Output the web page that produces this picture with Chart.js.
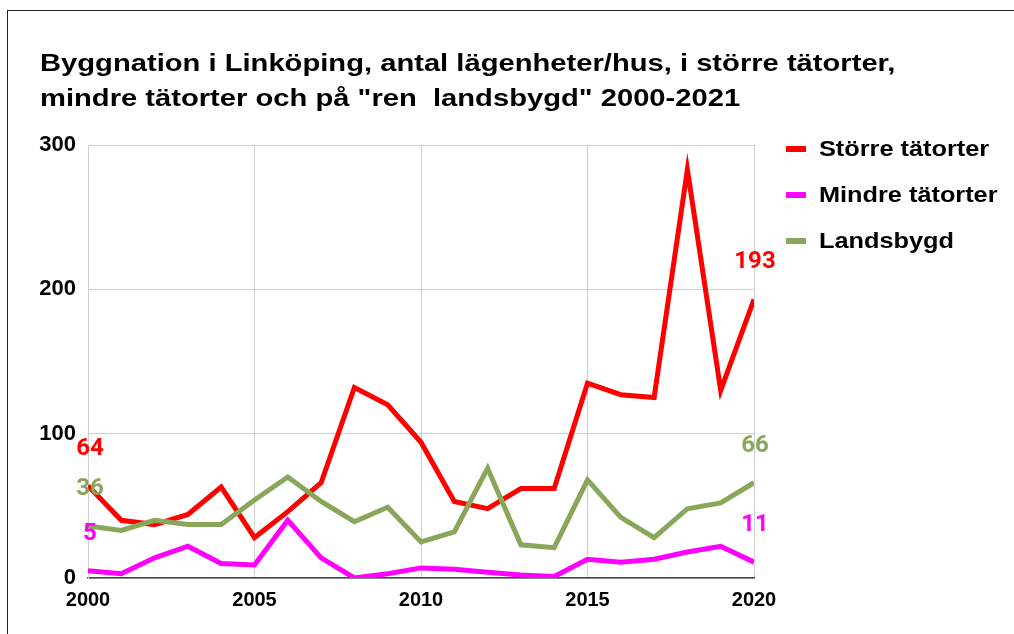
<!DOCTYPE html>
<html>
<head>
<meta charset="utf-8">
<script src="https://cdn.jsdelivr.net/npm/chart.js@4.4.1/dist/chart.umd.min.js"></script>
<style>
  html, body { margin: 0; padding: 0; background: #fff; }
  #wrap { position: relative; width: 1014px; height: 634px; overflow: hidden; }
  #frame { position: absolute; left: 7px; top: 10px; width: 1100px; height: 700px; border-left: 1px solid #222; border-top: 1px solid #222; }
  canvas { position: absolute; left: 0; top: 0; }
  #title { position: absolute; left: 40px; top: 45px; font-family: "Liberation Sans", Arial, sans-serif; font-weight: bold; font-size: 24px; line-height: 35px; color: #000; white-space: nowrap; transform: scaleX(1.215); transform-origin: 0 0; }
  .leg { position: absolute; left: 786px; font-family: "Liberation Sans", Arial, sans-serif; font-weight: bold; font-size: 22px; color: #000; white-space: nowrap; height: 30px; line-height: 30px; }
  .leg i { position: absolute; left: 0; top: 12px; width: 20px; height: 6px; }
  .leg span { position: absolute; left: 33px; top: 0; transform: scaleX(1.15); transform-origin: 0 0; }
</style>
</head>
<body>
<div id="wrap">
  <div id="frame"></div>
  <canvas id="c" width="1014" height="634"></canvas>
  <div id="title">Byggnation i Linköping, antal lägenheter/hus, i större tätorter,<br>mindre tätorter och på "ren&nbsp; landsbygd" 2000-2021</div>
  <div id="legend"></div>
</div>
<script>
const years = [2000,2001,2002,2003,2004,2005,2006,2007,2008,2009,2010,2011,2012,2013,2014,2015,2016,2017,2018,2019,2020];
const storre = [64,40,37,44,63,28,46,66,132,120,94,53,48,62,62,135,127,125,283,130,193];
const mindre = [5,3,14,22,10,9,40,14,0,3,7,6,4,2,1,13,11,13,18,22,11];
const landsbygd = [36,33,40,37,37,54,70,53,39,49,25,32,76,23,21,68,42,28,48,52,66];
const seriesNames = ["Större tätorter", "Mindre tätorter", "Landsbygd"];
const seriesColors = ["#ff0000", "#ff00ff", "#8aa65b"];
const yTicks = [0, 100, 200, 300];
const xTicks = [2000, 2005, 2010, 2015, 2020];

const seriesData = [storre, mindre, landsbygd];
const datasets = seriesData.map((vals, i) => ({
  label: seriesNames[i],
  data: vals.map((v, j) => ({ x: years[j], y: v })),
  borderColor: seriesColors[i],
  backgroundColor: seriesColors[i],
  borderWidth: 5,
  pointRadius: 0,
  tension: 0,
  fill: false,
  borderJoinStyle: 'miter'
}));

const order = [2, 1, 0];
order.forEach((di, k) => { datasets[di].order = k; });

const endLabels = {
  id: 'endLabels',
  afterDatasetsDraw(chart) {
    const ctx = chart.ctx;
    ctx.save();
    ctx.font = '700 24px Roboto, "Liberation Sans", sans-serif';
    ctx.textAlign = 'center';
    ctx.textBaseline = 'middle';
    chart.data.datasets.forEach((ds, i) => {
      const meta = chart.getDatasetMeta(i);
      const pts = meta.data;
      [0, pts.length - 1].forEach(idx => {
        const p = pts[idx];
        ctx.fillStyle = ds.borderColor;
        ctx.fillText(String(ds.data[idx].y), p.x + (idx === 0 ? 2 : 1), p.y - 37);
      });
    });
    ctx.restore();
  }
};

const tickFont = { family: '"Liberation Sans", Arial, sans-serif', weight: 'bold', size: 20 };

new Chart(document.getElementById('c'), {
  type: 'line',
  data: { datasets },
  options: {
    responsive: false,
    animation: false,
    layout: { padding: { left: 10, top: 145, right: 260, bottom: 10 } },
    plugins: { legend: { display: false }, title: { display: false }, tooltip: { enabled: false } },
    scales: {
      x: {
        type: 'linear',
        min: years[0], max: years[years.length - 1],
        afterBuildTicks(scale) { scale.ticks = xTicks.map(v => ({ value: v })); },
        afterFit(scale) { scale.height = 634 - 578 - 10; },
        ticks: { color: '#000', font: tickFont, padding: 10, maxRotation: 0, autoSkip: false, callback: v => String(v) },
        grid: { color: '#d0d0d0', lineWidth: 1, drawTicks: false },
        border: { color: '#444', width: 1.5 }
      },
      y: {
        type: 'linear',
        min: 0, max: 300,
        afterBuildTicks(scale) { scale.ticks = yTicks.map(v => ({ value: v })); },
        afterFit(scale) { scale.width = 88 - 10; },
        ticks: { color: '#000', font: { ...tickFont, size: 22 }, padding: 12, callback: v => String(v) },
        grid: { color: '#d0d0d0', lineWidth: 1, drawTicks: false },
        border: { color: '#d0d0d0', width: 1 }
      }
    }
  },
  plugins: [endLabels]
});

const legendTops = [134, 180, 226];
const legendEl = document.getElementById('legend');
seriesNames.forEach((name, i) => {
  const d = document.createElement('div');
  d.className = 'leg';
  d.style.top = legendTops[i] + 'px';
  d.innerHTML = '<i style="background:' + seriesColors[i] + '"></i><span>' + name + '</span>';
  legendEl.appendChild(d);
});
</script>
</body>
</html>
